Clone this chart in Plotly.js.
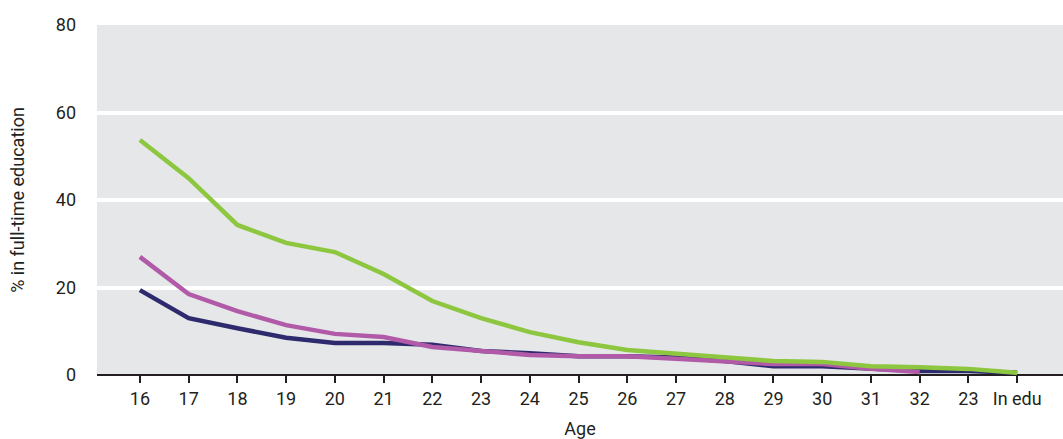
<!DOCTYPE html>
<html>
<head>
<meta charset="utf-8">
<script src="https://cdn.plot.ly/plotly-3.0.1.min.js"></script>
<style>html,body{margin:0;padding:0;background:#fff;}#chart{width:1063px;height:439px;}</style>
</head>
<body>
<div id="chart"></div>
<script>
const categories = ["16","17","18","19","20","21","22","23","24","25","26","27","28","29","30","31","32","23","In edu"];
const seriesNavy  = [19.4, 13.0, 10.7, 8.5, 7.3, 7.3, 6.9, 5.5, 5.0, 4.3, 4.3, 4.0, 3.2, 2.0, 2.0, 1.4, 0.9, 0.9, 0.5];
const seriesPink  = [27.0, 18.5, 14.6, 11.4, 9.4, 8.7, 6.4, 5.5, 4.6, 4.3, 4.3, 3.7, 3.0, 2.5, 2.5, 1.4, 0.7, null, null];
const seriesGreen = [53.7, 45.0, 34.3, 30.2, 28.1, 23.1, 16.9, 13.0, 9.8, 7.5, 5.7, 4.8, 3.9, 3.2, 3.0, 2.0, 1.8, 1.4, 0.5];
const yTicks = [0, 20, 40, 60, 80];

const xIdx = categories.map((c, i) => i);
const font = {family: "Roboto, 'DejaVu Sans', sans-serif", size: 18, color: "#231f20"};
const titleFont = {family: font.family, size: 18, color: "#231f20"};

const mk = (y, color) => ({
  x: xIdx, y: y, type: "scatter", mode: "lines",
  line: {color: color, width: 4.5}, connectgaps: false, hoverinfo: "skip"
});

const data = [
  mk(seriesNavy, "#2e2a6e"),
  mk(seriesPink, "#b05aa8"),
  mk(seriesGreen, "#8dc63f")
];

const layout = {
  width: 1063, height: 439,
  margin: {l: 97, r: 0, t: 25, b: 64},
  paper_bgcolor: "#ffffff",
  plot_bgcolor: "#e6e7e9",
  showlegend: false,
  font: font,
  xaxis: {
    range: [-0.88, 18.94],
    tickvals: xIdx, ticktext: categories,
    ticks: "outside", ticklen: 7, tickwidth: 2, tickcolor: "#231f20",
    showgrid: false, zeroline: false,
    showline: false,
    tickfont: font,
    title: {text: "Age", font: titleFont, standoff: 14},
    fixedrange: true
  },
  yaxis: {
    range: [0, 80],
    tickvals: yTicks,
    ticks: "", ticklabelstandoff: 20,
    showgrid: true, gridcolor: "#ffffff", gridwidth: 4,
    zeroline: true, zerolinecolor: "#231f20", zerolinewidth: 2.5,
    tickfont: font,
    title: {text: "% in full-time education", font: titleFont, standoff: 26},
    fixedrange: true
  }
};

Plotly.newPlot("chart", data, layout, {displayModeBar: false, staticPlot: true});
</script>
</body>
</html>
